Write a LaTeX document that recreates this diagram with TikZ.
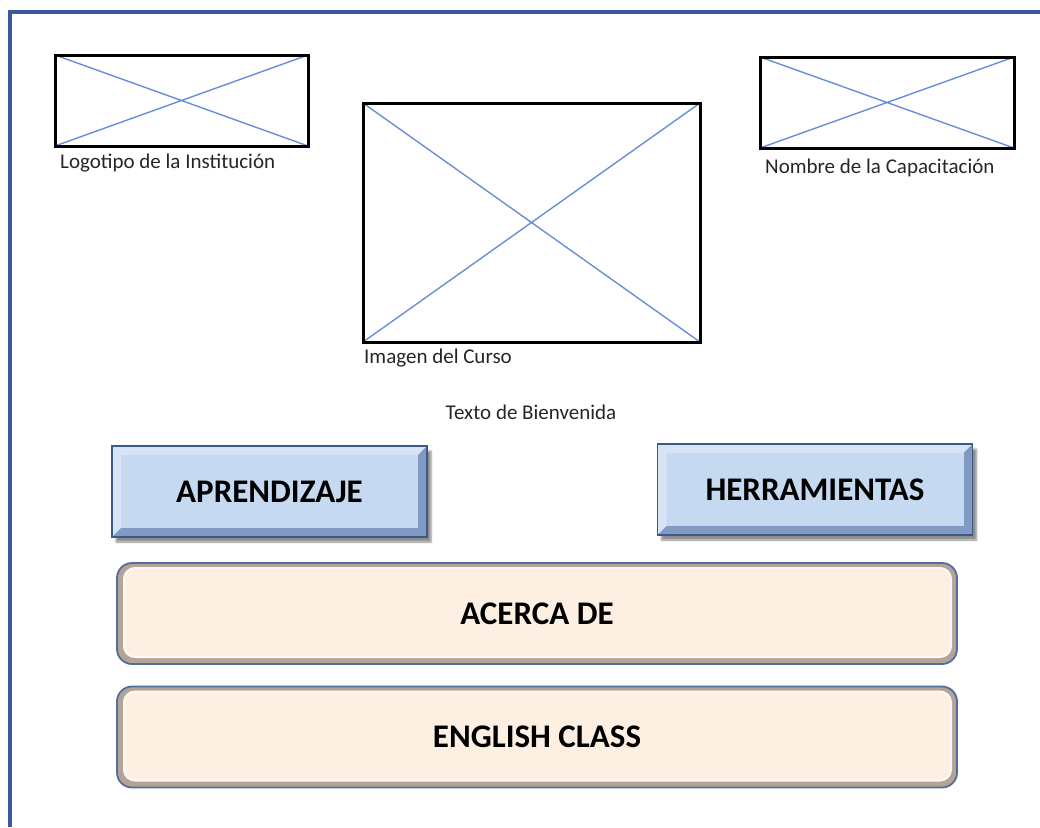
\documentclass[tikz,border=0pt]{standalone}
\usepackage{fontspec}
\setmainfont{Carlito}
\usetikzlibrary{shadows.blur}

\definecolor{framblue}{RGB}{58,88,158}
\definecolor{crossblue}{RGB}{104,142,214}
\definecolor{btnfill}{RGB}{197,217,241}
\definecolor{btnedge}{RGB}{60,90,135}
\definecolor{btnlight}{RGB}{214,228,246}
\definecolor{btndark}{RGB}{128,154,195}
\definecolor{barfill}{RGB}{253,240,226}
\definecolor{baredge}{RGB}{80,110,160}
\definecolor{barshade}{RGB}{180,164,150}

\begin{document}
\begin{tikzpicture}[x=1pt,y=-1pt,
    placeholder/.style={draw,line width=3pt,inner sep=0pt,
      path picture={\draw[crossblue,line width=1.4pt]
        (path picture bounding box.north west) -- (path picture bounding box.south east)
        (path picture bounding box.south west) -- (path picture bounding box.north east);}},
    caption/.style={inner sep=0pt,text=black!85,font=\fontsize{21}{24}\selectfont},
    navbtn/.style={draw=btnedge,line width=1.5pt,fill=btnfill,inner sep=0pt,
      minimum width=315pt,minimum height=91pt,
      font=\bfseries\fontsize{33}{36}\selectfont,
      blur shadow={shadow xshift=4pt,shadow yshift=-5pt,shadow opacity=45,shadow blur steps=6},
      path picture={
        \fill[btnlight] (path picture bounding box.north west) -- (path picture bounding box.north east)
          -- ([shift={(-9pt,-9pt)}]path picture bounding box.north east)
          -- ([shift={(9pt,-9pt)}]path picture bounding box.north west)
          -- ([shift={(9pt,9pt)}]path picture bounding box.south west)
          -- (path picture bounding box.south west) -- cycle;
        \fill[btndark] (path picture bounding box.south east) -- (path picture bounding box.south west)
          -- ([shift={(9pt,9pt)}]path picture bounding box.south west)
          -- ([shift={(-9pt,9pt)}]path picture bounding box.south east)
          -- ([shift={(-9pt,-9pt)}]path picture bounding box.north east)
          -- (path picture bounding box.north east) -- cycle;
        \fill[btnfill] ([shift={(9pt,-9pt)}]path picture bounding box.north west)
          rectangle ([shift={(-9pt,9pt)}]path picture bounding box.south east);}},
    infobar/.style={draw=baredge,line width=1.8pt,fill=barshade,rounded corners=15pt,inner sep=0pt,
      minimum width=840pt,minimum height=101pt,
      font=\bfseries\fontsize{33}{36}\selectfont,
      path picture={
        \filldraw[fill=barfill,draw=white!60!barfill,line width=2pt,rounded corners=11pt]
          ([shift={(7pt,-5pt)}]path picture bounding box.north west)
          rectangle ([shift={(-6pt,7pt)}]path picture bounding box.south east);}}]
  \useasboundingbox (0,0) rectangle (1040,827);
  % page frame
  \draw[framblue,line width=3.2pt] (10,827) -- (10,12) -- (1040,12);

  % image placeholders
  \node[placeholder,minimum width=253pt,minimum height=91pt] (logo) at (181.5,100.5) {};
  \node[placeholder,minimum width=337pt,minimum height=239pt] (curso) at (531.5,222.5) {};
  \node[placeholder,minimum width=254pt,minimum height=91pt] (nombre) at (887,102.5) {};
  \node[caption,anchor=west] (logotxt) at (60,163) {Logotipo de la Institución};
  \node[caption,anchor=west] (cursotxt) at (364,358) {Imagen del Curso};
  \node[caption,anchor=west] (nombretxt) at (765,168) {Nombre de la Capacitación};
  \node[caption] (bienvenida) at (531,412) {Texto de Bienvenida};

  % menu
  \node[navbtn] (aprend) at (269.5,491.5) {APRENDIZAJE};
  \node[navbtn] (herram) at (815,489.5) {HERRAMIENTAS};
  \node[infobar] (acerca) at (537,613.5) {ACERCA DE};
  \node[infobar] (english) at (537,737) {ENGLISH CLASS};
\end{tikzpicture}
\end{document}
